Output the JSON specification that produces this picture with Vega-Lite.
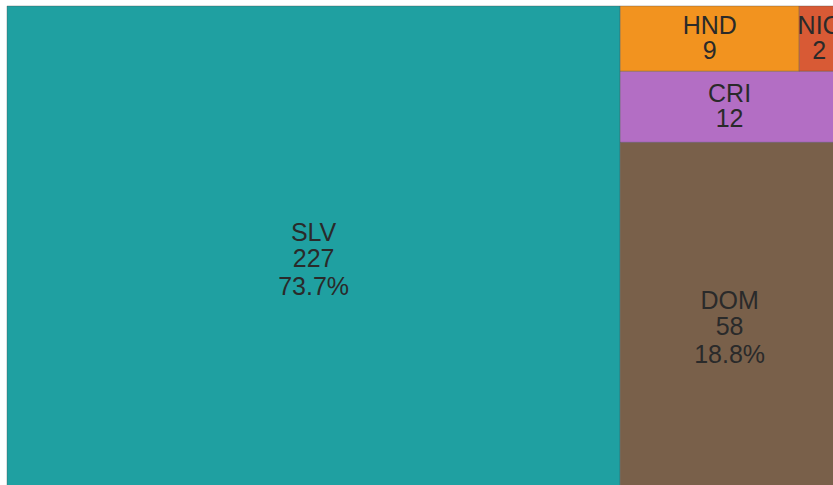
{
  "$schema": "https://vega.github.io/schema/vega-lite/v6.json",
  "width": 832,
  "height": 480,
  "autosize": {"type": "none"},
  "padding": {"left": 7, "top": 6, "right": 0, "bottom": 0},
  "background": "white",
  "config": {"view": {"stroke": null}},
  "data": {
    "values": [
      {"code": "SLV", "value": 227, "col": 1, "row": 1},
      {"code": "DOM", "value": 58, "col": 2, "row": 1},
      {"code": "CRI", "value": 12, "col": 2, "row": 2},
      {"code": "HND", "value": 9, "col": 2, "row": 3},
      {"code": "NIC", "value": 2, "col": 2, "row": 3}
    ]
  },
  "transform": [
    {"stack": "value", "groupby": [], "sort": [{"field": "col"}, {"field": "row"}, {"field": "value", "order": "descending"}], "as": ["gx0", "gx1"], "offset": "normalize"},
    {"joinaggregate": [{"op": "min", "field": "gx0", "as": "cx0"}, {"op": "max", "field": "gx1", "as": "cx1"}], "groupby": ["col"]},
    {"stack": "value", "groupby": ["col"], "sort": [{"field": "row"}, {"field": "value", "order": "descending"}], "as": ["gy0", "gy1"], "offset": "normalize"},
    {"joinaggregate": [{"op": "min", "field": "gy0", "as": "ry0"}, {"op": "max", "field": "gy1", "as": "ry1"}], "groupby": ["col", "row"]},
    {"stack": "value", "groupby": ["col", "row"], "sort": [{"field": "value", "order": "descending"}], "as": ["f0", "f1"], "offset": "normalize"},
    {"calculate": "datum.cx0 + datum.f0 * (datum.cx1 - datum.cx0)", "as": "bx0"},
    {"calculate": "datum.cx0 + datum.f1 * (datum.cx1 - datum.cx0)", "as": "bx1"},
    {"calculate": "(datum.bx0 + datum.bx1) / 2", "as": "bxm"},
    {"calculate": "(datum.ry0 + datum.ry1) / 2", "as": "bym"},
    {"joinaggregate": [{"op": "sum", "field": "value", "as": "total"}]},
    {"calculate": "format(datum.value / datum.total, '.1%')", "as": "pct"},
    {"calculate": "datum.code + '\\n' + datum.value", "as": "label"}
  ],
  "layer": [
    {
      "mark": {"type": "rect", "stroke": "#444", "strokeOpacity": 0.35, "strokeWidth": 1},
      "encoding": {
        "x": {"field": "bx0", "type": "quantitative", "scale": {"domain": [0, 1], "nice": false, "zero": false}, "axis": null},
        "x2": {"field": "bx1"},
        "y": {"field": "ry0", "type": "quantitative", "scale": {"domain": [0, 1], "nice": false, "zero": false}, "axis": null},
        "y2": {"field": "ry1"},
        "color": {
          "field": "code",
          "type": "nominal",
          "scale": {"domain": ["SLV", "DOM", "CRI", "HND", "NIC"], "range": ["#1fa0a1", "#79604a", "#b36ec4", "#f2931f", "#d85a35"]},
          "legend": null
        }
      }
    },
    {
      "mark": {"type": "text", "lineBreak": "\n", "lineHeight": 25.5, "fontSize": 25, "font": "Liberation Sans", "color": "#2a2a2a", "align": "center", "baseline": "middle", "dy": -12.75},
      "encoding": {
        "x": {"field": "bxm", "type": "quantitative"},
        "y": {"field": "bym", "type": "quantitative"},
        "text": {"field": "label", "type": "nominal"}
      }
    },
    {
      "transform": [{"filter": "datum.value / datum.total >= 0.1"}],
      "mark": {"type": "text", "fontSize": 25, "font": "Liberation Sans", "color": "#2a2a2a", "align": "center", "baseline": "middle", "dy": 41},
      "encoding": {
        "x": {"field": "bxm", "type": "quantitative"},
        "y": {"field": "bym", "type": "quantitative"},
        "text": {"field": "pct", "type": "nominal"}
      }
    }
  ]
}
